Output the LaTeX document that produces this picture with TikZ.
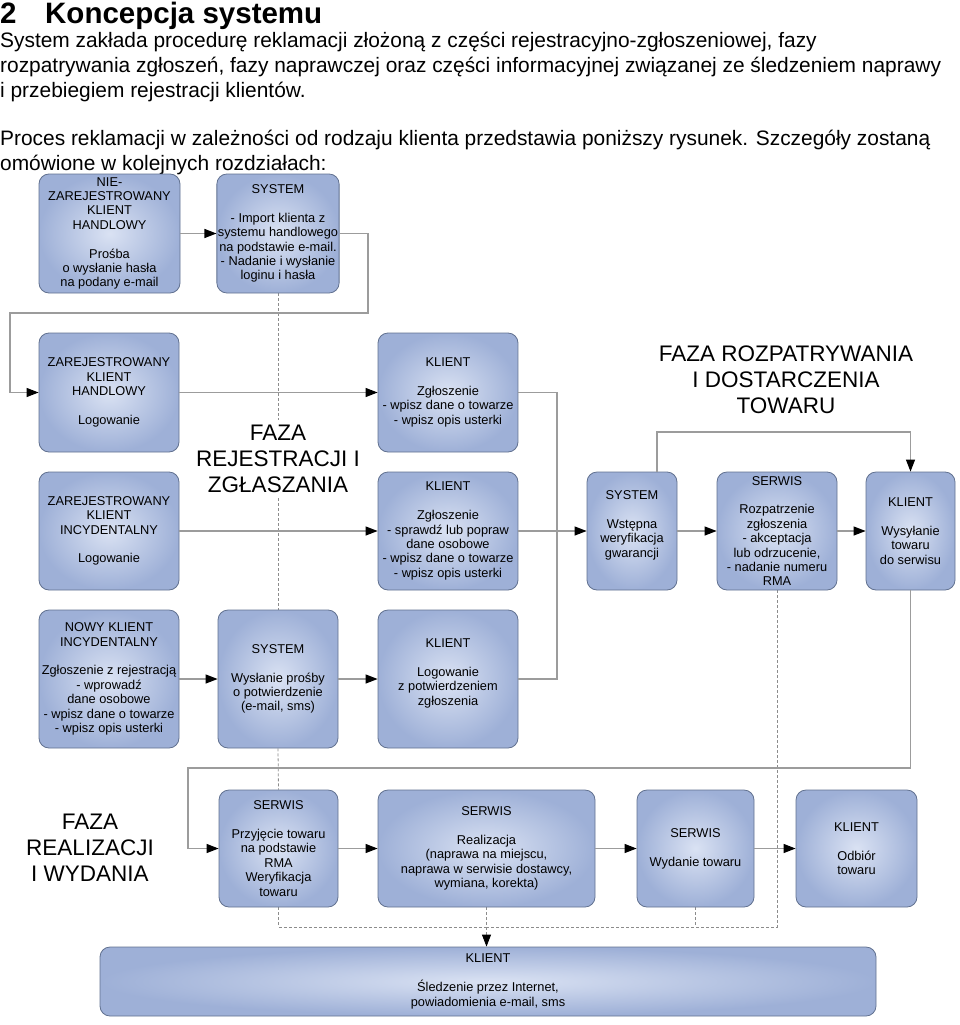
\documentclass[tikz,border=0pt]{standalone}
\usepackage{fontspec}
\setmainfont{Liberation Sans}
\usetikzlibrary{arrows.meta,calc}
\pgfdeclarelayer{background}
\pgfsetlayers{background,main}
\definecolor{boxin}{HTML}{DAE2F3}
\definecolor{boxout}{HTML}{9EB0D7}
\definecolor{boxline}{HTML}{617190}
\definecolor{conncol}{HTML}{9C9C9C}
\definecolor{dashcol}{HTML}{8C8C8C}
\newcommand{\bx}[6]{\node[boxst, minimum width={(#4)-(#2)}, minimum height={(#5)-(#3)}] (#1) at ({((#2)+(#4))/2},{((#3)+(#5))/2}) {#6};}
\newcommand{\gap}{\\[14.4pt]}
\begin{document}
\begin{tikzpicture}[x=1pt,y=-1pt,
  boxst/.style={rounded corners=10pt, draw=boxline, line width=0.8pt, inner color=boxin, outer color=boxout, align=center, inner sep=1pt, font=\fontsize{12.8}{14.4}\selectfont, text=black},
  conn/.style={draw=conncol, line width=1.1pt},
  arr/.style={conn, -{Triangle[length=12pt,width=9pt,color=black]}},
  dsh/.style={draw=dashcol, line width=0.8pt, dash pattern=on 3pt off 2pt},
  dsharr/.style={dsh, -{Triangle[length=12pt,width=9pt,color=black]}},
  phase/.style={align=center, font=\fontsize{22.5}{26}\selectfont, inner sep=0pt},
  body/.style={anchor=base west, inner sep=0pt, font=\fontsize{20.9}{24}\selectfont}]
\useasboundingbox (0,0) rectangle (960,1025);

% header text
\node[anchor=base west, inner sep=0pt, font=\fontsize{29.5}{31}\selectfont\bfseries] (tnum) at (0,24) {2};
\node[anchor=base west, inner sep=0pt, font=\fontsize{29.5}{31}\selectfont\bfseries] (title) at (45,24) {Koncepcja systemu};
\node[body] (b1) at (0,48) {System zakłada procedurę reklamacji złożoną z części rejestracyjno-zgłoszeniowej, fazy};
\node[body] (b2) at (0,72.5) {rozpatrywania zgłoszeń, fazy naprawczej oraz części informacyjnej związanej ze śledzeniem naprawy};
\node[body] (b3) at (0,97) {i przebiegiem rejestracji klientów.};
\node[body] (b4) at (0,145.5) {Proces reklamacji w zależności od rodzaju klienta przedstawia poniższy rysunek. Szczegóły zostaną};
\node[body] (b5) at (0,170) {omówione w kolejnych rozdziałach:};

% phase labels
\node[phase, fill=white, inner sep=5pt] (ph1) at (278,459) {FAZA\\REJESTRACJI I\\ZGŁASZANIA};
\node[phase] (ph2) at (786,380) {FAZA ROZPATRYWANIA\\I DOSTARCZENIA\\TOWARU};
\node[phase] (ph3) at (90,848) {FAZA\\REALIZACJI\\I WYDANIA};

% boxes
\bx{A1}{39}{174}{180}{293}{NIE-\\ZAREJESTROWANY\\KLIENT\\HANDLOWY\gap Prośba\\o wysłanie hasła\\na podany e-mail}
\bx{A2}{218}{174}{338}{293}{SYSTEM\gap - Import klienta z\\systemu handlowego\\na podstawie e-mail.\\- Nadanie i wysłanie\\loginu i hasła}
\bx{B1}{39}{333}{179}{452}{ZAREJESTROWANY\\KLIENT\\HANDLOWY\gap Logowanie}
\bx{C1}{378}{333}{518}{452}{KLIENT\gap Zgłoszenie\\- wpisz dane o towarze\\- wpisz opis usterki}
\bx{B2}{39}{472}{179}{590}{ZAREJESTROWANY\\KLIENT\\INCYDENTALNY\gap Logowanie}
\bx{C2}{378}{472}{518}{590}{KLIENT\gap Zgłoszenie\\- sprawdź lub popraw\\dane osobowe\\- wpisz dane o towarze\\- wpisz opis usterki}
\bx{D}{587}{472}{677}{590}{SYSTEM\gap Wstępna\\weryfikacja\\gwarancji\\\mbox{}}
\bx{E}{717}{472}{837}{590}{SERWIS\gap Rozpatrzenie\\zgłoszenia\\- akceptacja\\lub odrzucenie,\\- nadanie numeru\\RMA}
\bx{F}{866}{472}{955}{590}{KLIENT\gap Wysyłanie\\towaru\\do serwisu}
\bx{G}{39}{610}{179}{748}{NOWY KLIENT\\INCYDENTALNY\gap Zgłoszenie z rejestracją\\- wprowadź\\dane osobowe\\- wpisz dane o towarze\\- wpisz opis usterki}
\bx{H}{218}{610}{338}{748}{SYSTEM\gap Wysłanie prośby\\o potwierdzenie\\(e-mail, sms)}
\bx{I}{378}{610}{518}{748}{KLIENT\gap Logowanie\\z potwierdzeniem\\zgłoszenia\\\mbox{}}
\bx{J}{219}{790}{338}{907}{SERWIS\gap Przyjęcie towaru\\na podstawie\\RMA\\Weryfikacja\\towaru}
\bx{K}{378}{790}{595}{907}{SERWIS\gap Realizacja\\(naprawa na miejscu,\\naprawa w serwisie dostawcy,\\wymiana, korekta)}
\bx{L}{637}{790}{754}{907}{SERWIS\gap Wydanie towaru}
\bx{M}{796}{790}{917}{907}{KLIENT\gap Odbiór\\towaru}
\bx{N}{100}{947}{876}{1016}{KLIENT\gap Śledzenie przez Internet,\\powiadomienia e-mail, sms}

% helper coordinates
\coordinate (r1) at (368,313);
\coordinate (r2) at (10,313);
\coordinate (vj) at (557,531);
\coordinate (t1) at (657,432);
\coordinate (w2) at (188,768);
\coordinate (dj) at (486.5,927);

% solid connectors
\draw[arr] (A1.east) -- (A2.west);
\draw[arr] (A2.east) -| (r1) -- (r2) |- (B1.west);
\draw[arr] (B1.east) -- (C1.west);
\draw[arr] (B2.east) -- (C2.west);
\draw[conn] (C1.east) -| (vj);
\draw[conn] (I.east) -| (vj);
\draw[arr] (C2.east) -- (D.west);
\draw[arr] (D.east) -- (E.west);
\draw[arr] (E.east) -- (F.west);
\draw[arr] (D.north -| t1) -- (t1) -| (F.north);
\draw[arr] (G.east) -- (H.west);
\draw[arr] (H.east) -- (I.west);
\draw[arr] (F.south) |- (w2) |- (J.west);
\draw[arr] (J.east) -- (K.west);
\draw[arr] (K.east) -- (L.west);
\draw[arr] (L.east) -- (M.west);

% dashed connectors behind the boxes
\begin{pgfonlayer}{background}
\draw[dsh] (A2.south) -- (H.north);
\draw[dsh] (H.south) -- (J.north);
\draw[dsh] (J.south) |- (dj);
\draw[dsh] (E.south) |- (dj);
\draw[dsh] (L.south) -- (L.south |- dj);
\draw[dsharr] (K.south) -- (K.south |- N.north);
\end{pgfonlayer}
\end{tikzpicture}
\end{document}
